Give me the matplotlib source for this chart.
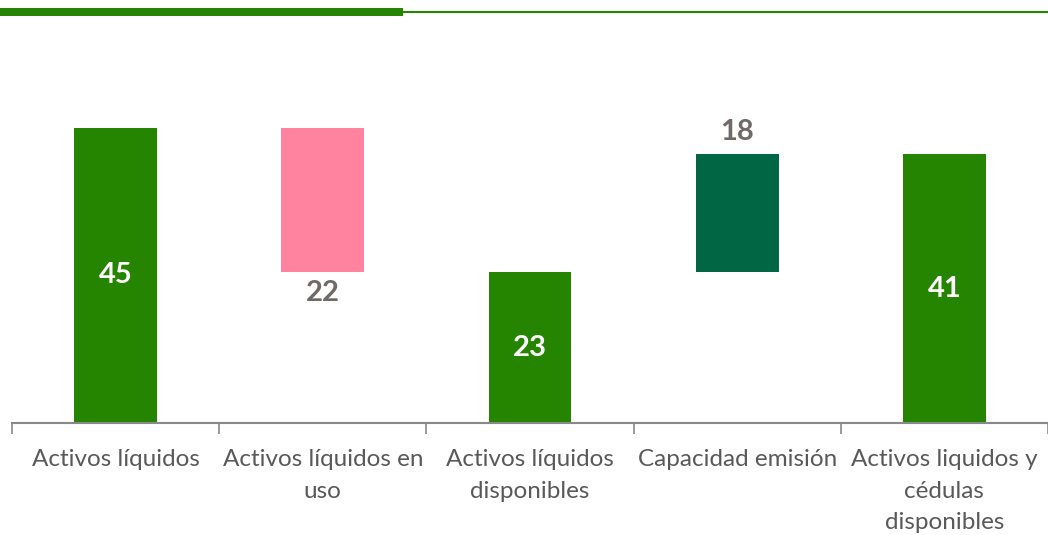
import matplotlib.pyplot as plt
from matplotlib.patches import Rectangle
from matplotlib.lines import Line2D

categories = ["Activos líquidos", "Activos líquidos en\nuso", "Activos líquidos\ndisponibles",
              "Capacidad emisión", "Activos liquidos y\ncédulas\ndisponibles"]
values = [45, -22, 23, 18, 41]
is_total = [True, False, True, False, True]

GREEN = "#268500"
PINK = "#FF829F"
DARK_GREEN = "#006644"
LABEL_GRAY = "#6F6A66"
TICK_GRAY = "#595959"

plt.rcParams["font.family"] = ["Lato", "DejaVu Sans"]

fig = plt.figure(figsize=(10.48, 5.35), dpi=100)
ax = fig.add_axes([12 / 1048, 112 / 535, 1 - 12 / 1048, 328 / 535])

# waterfall: totals start at zero, changes float on the running total
running = 0
for i, (v, tot) in enumerate(zip(values, is_total)):
    if tot:
        running = v
        ax.bar(i, v, width=0.4, color=GREEN)
        ax.text(i, v / 2, f"{v}", ha="center", va="center",
                color="white", fontsize=21, fontweight="bold")
    elif v < 0:
        bottom = running + v
        ax.bar(i, -v, bottom=bottom, width=0.4, color=PINK)
        ax.text(i, bottom - 3.2, f"{-v}", ha="center", va="center",
                color=LABEL_GRAY, fontsize=21, fontweight="bold")
        running += v
    else:
        ax.bar(i, v, bottom=running, width=0.4, color=DARK_GREEN)
        ax.text(i, running + v + 3.3, f"{v}", ha="center", va="center",
                color=LABEL_GRAY, fontsize=21, fontweight="bold")
        running += v

ax.set_yticks([])
for s in ["top", "right", "left"]:
    ax.spines[s].set_visible(False)
ax.spines["bottom"].set_color("#898989")
ax.spines["bottom"].set_linewidth(1.5)

ax.set_xticks([i - 0.5 for i in range(len(values) + 1)], minor=True)
ax.set_xticks(range(len(values)))
ax.set_xticklabels(categories, fontsize=17.5, color=TICK_GRAY, linespacing=1.6, va="top")
ax.tick_params(axis="x", which="major", length=0, pad=19)
ax.tick_params(axis="x", which="minor", length=8, width=1.2, color="#898989")
ax.set_xlim(-0.5, len(values) - 0.5)
ax.set_ylim(0, 50)

# header rule
fig.add_artist(Rectangle((0, 1 - 15.5 / 535), 403 / 1048, 8 / 535,
                         transform=fig.transFigure, color=GREEN, lw=0))
fig.add_artist(Line2D([403 / 1048, 1], [1 - 12 / 535] * 2,
                      transform=fig.transFigure, color=GREEN, lw=1.5))

fig.savefig("out.png", dpi=100)
